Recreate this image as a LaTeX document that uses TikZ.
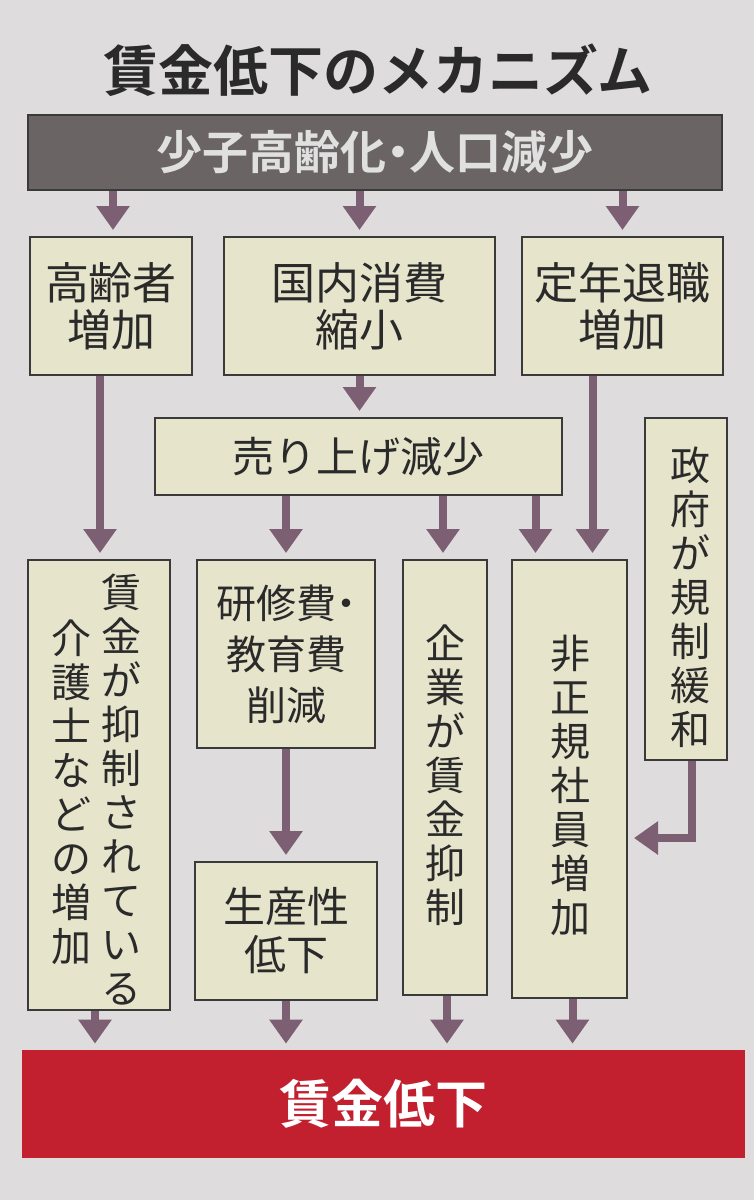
\documentclass[tikz,border=0pt]{standalone}
\usepackage{fontspec}
\setmainfont{Noto Sans CJK JP}[BoldFont={Noto Sans CJK JP Bold}]
\usetikzlibrary{arrows.meta,calc}
\definecolor{bg}{HTML}{DEDCDD}
\definecolor{boxfill}{HTML}{E6E4CB}
\definecolor{boxline}{HTML}{3A3A3A}
\definecolor{darkbar}{HTML}{6A6464}
\definecolor{redbar}{HTML}{C3202F}
\definecolor{arrowc}{HTML}{7D5F73}
\definecolor{txt}{HTML}{2A2A2A}
\newcommand{\halfdot}{\kern-0.25em・\kern-0.25em}
\begin{document}
\begin{tikzpicture}[x=0.5pt,y=-0.5pt,
  box/.style={draw=boxline, line width=1pt, fill=boxfill, text=txt, inner sep=0pt, align=center,
    font=\fontsize{22}{23.5}\selectfont},
  vtext/.style={text=txt, inner sep=0pt, align=center, font=\fontsize{20}{22}\selectfont},
  arr/.style={draw=arrowc, line width=4pt, -{Triangle[width=16pt,length=12pt]}, shorten >=3pt}
]
\fill[bg] (0,0) rectangle (754,1200);
\useasboundingbox (0,0) rectangle (754,1200);

% title
\node[text=txt, font=\fontsize{27.5}{30}\bfseries] (title) at (378,70) {賃金低下のメカニズム};

% top bar
\node[draw=boxline, line width=1pt, fill=darkbar, text=white!88!black, minimum width=347pt, minimum height=37.5pt,
  inner sep=0pt, font=\fontsize{23}{25}\bfseries] (pop) at (375,152.5) {少子高齢化\halfdot 人口減少};

% row 2
\node[box, minimum width=81pt, minimum height=69pt] (old) at (111,306) {高齢者\\増加};
\node[box, minimum width=135.5pt, minimum height=69pt] (cons) at (359.5,306) {国内消費\\縮小};
\node[box, minimum width=100.5pt, minimum height=69pt] (ret) at (622.5,306) {定年退職\\増加};

% sales
\node[box, minimum width=203.5pt, minimum height=38.5pt, font=\fontsize{21}{23}\selectfont] (sales) at (358.5,456.5) {売り上げ減少};

% government
\node[box, minimum width=41pt, minimum height=171pt] (gov) at (686,589) {};
\node[vtext] (govt) at (690,597) {政\\府\\が\\規\\制\\緩\\和};

% row 3
\node[box, minimum width=71pt, minimum height=225pt] (care) at (99,785) {};
\node[vtext] (careR) at (121,790) {賃\\金\\が\\抑\\制\\さ\\れ\\て\\い\\る};
\node[vtext] (careL) at (71,792) {介\\護\\士\\な\\ど\\の\\増\\加};

\node[box, minimum width=89pt, minimum height=94pt, font=\fontsize{20}{25.5}\selectfont] (train) at (286,654) {研修費\kern-0.25em・\kern-0.25em\\教育費\\削減};
\node[box, minimum width=91pt, minimum height=69pt, font=\fontsize{21}{24}\selectfont] (prod) at (286,931) {生産性\\低下};

\node[box, minimum width=42pt, minimum height=217.5pt] (corp) at (445,777.5) {};
\node[vtext] (corpt) at (445,775) {企\\業\\が\\賃\\金\\抑\\制};

\node[box, minimum width=57.5pt, minimum height=219pt] (irreg) at (569.5,779) {};
\node[vtext] (irregt) at (570,785) {非\\正\\規\\社\\員\\増\\加};

% bottom bar
\node[fill=redbar, minimum width=361.5pt, minimum height=54pt, inner sep=0pt, text=white,
  font=\fontsize{26}{28}\bfseries] (wage) at (383.5,1104) {賃金低下};

% arrows from top bar
\draw[arr] ([xshift=1pt]pop.south -| old.north) -- ([xshift=1pt]old.north);
\draw[arr] (pop.south -| cons.north) -- (cons.north);
\draw[arr] (pop.south -| ret.north) -- (ret.north);

% row 2 arrows
\draw[arr] ([xshift=-5.5pt]old.south) -- ([xshift=-5.5pt]old.south |- care.north);
\draw[arr] (cons.south) -- (cons.south |- sales.north);
\draw[arr] ([xshift=-15pt]ret.south) -- ([xshift=-15pt]ret.south |- irreg.north);

% sales arrows
\draw[arr] (sales.south -| train.north) -- (train.north);
\draw[arr] ([xshift=-1pt]sales.south -| corp.north) -- ([xshift=-1pt]corp.north);
\draw[arr] ([xshift=-17pt]irreg.north |- sales.south) -- ([xshift=-17pt]irreg.north);

% training -> productivity
\draw[arr] (train.south) -- (prod.north);

% government elbow
\coordinate (bend) at (692,838);
\draw[arr, line join=miter] (gov.south -| bend) -- (bend) -- (bend -| irreg.east);

% to bottom bar
\draw[arr] ([xshift=-2pt]care.south) -- ([xshift=-2pt]care.south |- wage.north);
\draw[arr] (prod.south) -- (prod.south |- wage.north);
\draw[arr] ([xshift=1pt]corp.south) -- ([xshift=1pt]corp.south |- wage.north);
\draw[arr] ([xshift=1.5pt]irreg.south) -- ([xshift=1.5pt]irreg.south |- wage.north);
\end{tikzpicture}
\end{document}
